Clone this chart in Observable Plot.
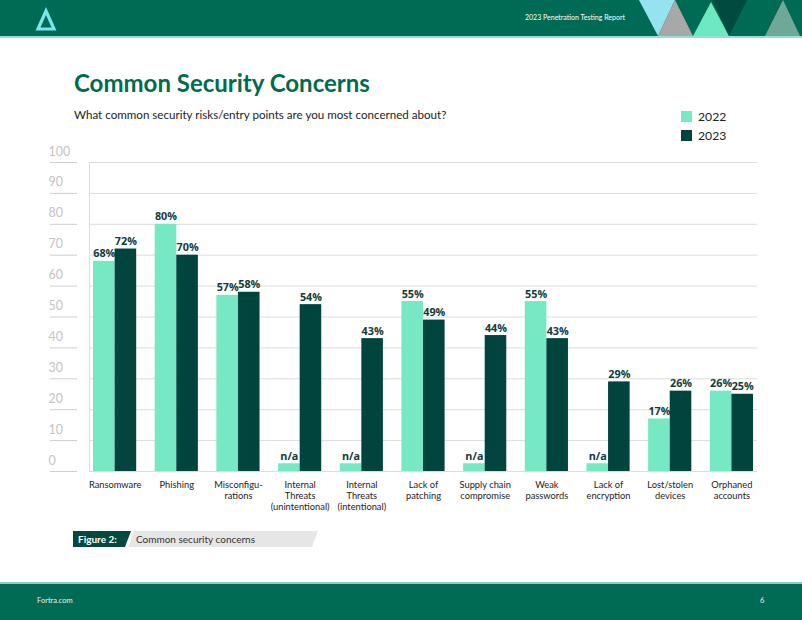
<!DOCTYPE html>
<html>
<head>
<meta charset="utf-8">
<script src="https://cdn.jsdelivr.net/npm/d3@7"></script>
<script src="https://cdn.jsdelivr.net/npm/@observablehq/plot@0.6"></script>
<style>
  html, body { margin: 0; padding: 0; background: #fff; }
  body { width: 802px; height: 620px; position: relative; overflow: hidden; font-family: Lato, "Open Sans", sans-serif; }
  .header { position: absolute; left: 0; top: 0; width: 802px; height: 36px; background: #006b55; border-bottom: 2px solid #8fe3d2; }
  .header .rt { position: absolute; left: 525px; top: 13px; font-size: 7px; color: #fff; }
  .footer { position: absolute; left: 0; top: 582px; width: 802px; height: 38px; background: #006b55; border-top: 2px solid #8fc9bd; }
  .footer .l { position: absolute; left: 37px; top: 12px; font-size: 7.5px; color: #e6f5ef; }
  .footer .r { position: absolute; left: 760px; top: 12px; font-size: 7.5px; color: #e6f5ef; }
  .title { position: absolute; left: 74px; top: 68px; font-size: 24px; font-weight: 700; color: #006b50; white-space: nowrap; }
  .subtitle { position: absolute; left: 74px; top: 108px; font-size: 11.6px; color: #222; white-space: nowrap; }
  .legend { position: absolute; left: 681px; top: 107px; font-size: 12.2px; color: #222; }
  .legend .item { display: flex; align-items: center; height: 19px; }
  .legend .sw { width: 11px; height: 11px; margin-right: 6px; }
  .caption { position: absolute; left: 73px; top: 531px; height: 15px; }
  #chart { position: absolute; left: 0; top: 140px; }
</style>
</head>
<body>
<div class="header">
  <svg width="802" height="36" style="position:absolute;left:0;top:0">
    <polygon points="46,11 54,29 38,29" fill="none" stroke="#7fe3ee" stroke-width="3.2" stroke-linejoin="miter"/>
    <polygon points="639,0 675,0 658,36" fill="#97e2ef"/>
    <polygon points="658,36 693,36 675,0" fill="#a8a8a8"/>
    <polygon points="693,36 729,36 711,2" fill="#6ee8c1"/>
    <polygon points="712,0 747,0 729,36" fill="#004a40"/>
    <polygon points="765,36 800,36 783,0" fill="#6fa898"/>
  </svg>
  <div class="rt">2023 Penetration Testing Report</div>
</div>

<div class="title">Common Security Concerns</div>
<div class="subtitle">What common security risks/entry points are you most concerned about?</div>
<div class="legend" id="legend"></div>

<div id="chart"></div>

<div class="caption">
  <svg width="250" height="16">
    <polygon points="0,0 58,0 52,16 0,16" fill="#004a40"/>
    <polygon points="61,0 245,0 239,16 55,16" fill="#e6e6e6"/>
    <text x="5" y="11.5" font-size="10" font-weight="700" fill="#fff" font-family="Lato, sans-serif">Figure 2:</text>
    <text x="63" y="11.5" font-size="10" fill="#333" font-family="Lato, sans-serif">Common security concerns</text>
  </svg>
</div>

<div class="footer">
  <div class="l">Fortra.com</div>
  <div class="r">6</div>
</div>

<script>
// ---- data ----
const categories = [
  "Ransomware",
  "Phishing",
  "Misconfigu-\nrations",
  "Internal\nThreats\n(unintentional)",
  "Internal\nThreats\n(intentional)",
  "Lack of\npatching",
  "Supply chain\ncompromise",
  "Weak\npasswords",
  "Lack of\nencryption",
  "Lost/stolen\ndevices",
  "Orphaned\naccounts"
];
const years = ["2022", "2023"];
const values2022 = [68, 80, 57, null, null, 55, null, 55, null, 17, 26];
const values2023 = [72, 70, 58, 54, 43, 49, 44, 43, 29, 26, 25];
const naStub = 2.5; // height of the small "n/a" stub bar as drawn
const yTicks = [0, 10, 20, 30, 40, 50, 60, 70, 80, 90, 100];

const colors = { "2022": "#76e8c3", "2023": "#00443d" };
const labelColor = "#0f3b3a";

const rows2022 = categories.map((c, i) => ({ category: c, year: "2022", value: values2022[i] }));
const rows2023 = categories.map((c, i) => ({ category: c, year: "2023", value: values2023[i] }));
const barY = d => d.value == null ? naStub : d.value;
const labelText = d => d.value == null ? "n/a" : d.value + "%";

// legend
const legend = document.getElementById("legend");
for (const y of years) {
  const it = document.createElement("div");
  it.className = "item";
  it.innerHTML = `<span class="sw" style="background:${colors[y]}"></span><span>${y}</span>`;
  legend.appendChild(it);
}

const half = 21.6;
const chart = Plot.plot({
  width: 802,
  height: 375,
  marginTop: 22,
  marginBottom: 44,
  marginLeft: 89,
  marginRight: 45,
  style: { fontFamily: "Lato, sans-serif", background: "transparent" },
  x: { domain: categories, paddingInner: 0.3, paddingOuter: 0.065, round: false, axis: null },
  y: { domain: [0, 100], axis: null },
  marks: [
    Plot.ruleY(yTicks, { stroke: "#dcdcdc", strokeWidth: 1 }),
    Plot.frame({ anchor: "left", stroke: "#dcdcdc" }),
    Plot.axisY({ ticks: yTicks, tickSize: 27, dx: -12, tickFormat: () => "", stroke: "#cfcfcf", label: null }),
    Plot.text(yTicks, { y: d => d, text: d => String(d), frameAnchor: "left", dx: -41, dy: -11, textAnchor: "start", fill: "#c4c4c4", fontSize: 12.5, fontWeight: 400 }),
    Plot.barY(rows2022, { x: "category", y: barY, fill: colors["2022"], insetRight: half }),
    Plot.barY(rows2023, { x: "category", y: barY, fill: colors["2023"], insetLeft: half }),
    Plot.text(rows2022, { x: "category", y: barY, text: labelText, dx: -half / 2, dy: -4, lineAnchor: "bottom", fontWeight: 700, fontSize: 10.8, fill: labelColor, fontFamily: "Open Sans, sans-serif" }),
    Plot.text(rows2023, { x: "category", y: barY, text: labelText, dx: half / 2, dy: -4, lineAnchor: "bottom", fontWeight: 700, fontSize: 10.8, fill: labelColor, fontFamily: "Open Sans, sans-serif" }),
    Plot.axisX({ tickSize: 0, tickPadding: 8, fontSize: 9.3, lineHeight: 1.22, fill: "#222", stroke: "none", label: null })
  ]
});
document.getElementById("chart").appendChild(chart);
</script>
</body>
</html>
